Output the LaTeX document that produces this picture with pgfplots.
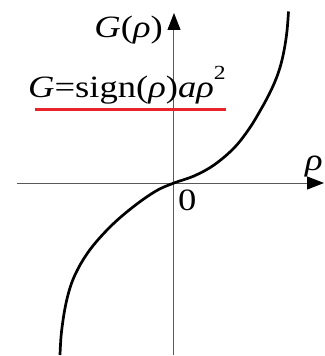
\documentclass[border=0pt]{standalone}
\usepackage{fontspec}
\setmainfont{Liberation Serif}
\usepackage{graphicx}
\usepackage{pgfplots}
\pgfplotsset{compat=1.18}
\usetikzlibrary{arrows.meta}

% curve, origin at the axes crossing
\pgfplotstableread{
x y
-114 -172
-112.4 -148
-107.5 -118
-99.5 -93
-85 -68
-64 -44
-41 -24
-18 -8
0 0
20 7
40 18
60 35
75 54
86 72
95 88.5
102 104
107 119
110.7 136
113.1 153
114.5 171.5
}\curve

\newcommand{\lbl}[1]{\scalebox{1.18}[1]{\fontsize{31}{36}\selectfont #1}}

\begin{document}
\begin{tikzpicture}
\begin{axis}[
    anchor=origin, at={(0,0)},
    x=1pt, y=1pt,
    xmin=-157, xmax=150,
    ymin=-172, ymax=170,
    axis lines=middle,
    ticks=none,
    clip=false,
    axis line style={draw=black!65, line width=1pt,
        -{Triangle[length=17pt,width=13pt,black]}},
]
\addplot[black, line width=2.7pt, smooth, tension=0.6] table {\curve};
\addplot[color={rgb,255:red,232;green,36;blue,42}, line width=3pt] coordinates {(-139,73.5) (52,73.5)};

\node[anchor=base east, inner sep=0pt] at (axis cs:-11,145)
    {\lbl{\textit{G}(\textit{ρ})}};
\node[anchor=base west, inner sep=0pt] at (axis cs:-146,85)
    {\lbl{\textit{G}=sign(\textit{ρ})\textit{aρ}\raisebox{18pt}{\fontsize{20}{20}\selectfont 2}}};
\node[anchor=base west, inner sep=0pt] at (axis cs:4,-27) {\lbl{0}};
\node[anchor=base east, inner sep=0pt] at (axis cs:149,13) {\lbl{\textit{ρ}}};
\end{axis}
\pgfresetboundingbox
\path (-174pt,-173pt) rectangle (150pt,183pt);
\end{tikzpicture}
\end{document}
